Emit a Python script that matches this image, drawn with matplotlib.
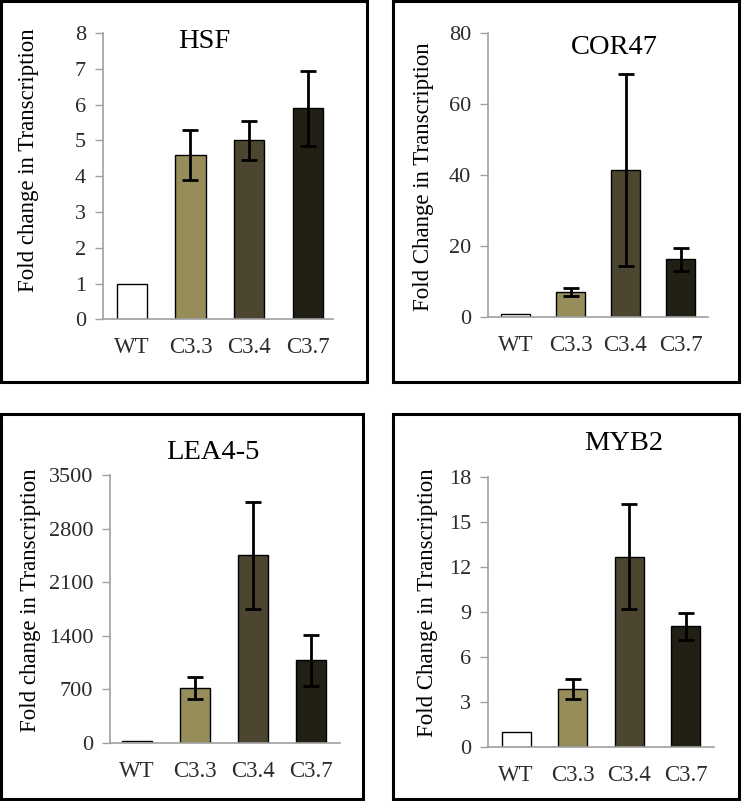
import matplotlib

matplotlib.use("Agg")

import matplotlib.pyplot as plt
from matplotlib.patches import Rectangle

plt.rcParams["font.family"] = ["Liberation Serif", "DejaVu Serif"]

lines = ["WT", "C3.3", "C3.4", "C3.7"]
bar_colors = ["#ffffff", "#978d5b", "#4c4630", "#221f15"]

hsf_mean = [1.0, 4.6, 5.0, 5.9]
hsf_err = [0.0, 0.7, 0.55, 1.05]

cor47_mean = [0.8, 7.1, 41.5, 16.2]
cor47_err = [0.0, 1.2, 27.0, 3.2]

lea45_mean = [20, 720, 2450, 1080]
lea45_err = [0, 140, 700, 330]

myb2_mean = [1.0, 3.85, 12.7, 8.05]
myb2_err = [0.0, 0.68, 3.5, 0.9]

W, H = 742, 801
fig = plt.figure(figsize=(W / 100, H / 100), dpi=100)


def px_box(left, top, right, bottom):
    return [left / W, 1 - bottom / H, (right - left) / W, (bottom - top) / H]


def draw_panel(frame, axbox, means, errs, ymax, ystep, title, title_xy, ylabel, ylabel_xy, xlim):
    # black frame around each panel
    fx0, fy0, fx1, fy1 = frame
    fig.patches.append(
        Rectangle((fx0 / W, 1 - fy1 / H), (fx1 - fx0) / W, (fy1 - fy0) / H,
                  transform=fig.transFigure, fill=False, edgecolor="black", linewidth=2.2)
    )

    ax = fig.add_axes(px_box(*axbox))
    x = range(len(lines))
    ax.bar(x, means, width=0.52, color=bar_colors, edgecolor="black", linewidth=1.0, zorder=2)
    err_x = [i for i in x if errs[i] > 0]
    ax.errorbar(err_x, [means[i] for i in err_x], yerr=[errs[i] for i in err_x],
                fmt="none", ecolor="black", elinewidth=2.0, capsize=6, capthick=2.0, zorder=3)

    ax.set_ylim(0, ymax)
    ax.set_xlim(*xlim)
    ax.set_yticks(range(0, ymax + 1, ystep))
    ax.set_xticks(list(x))
    ax.set_xticklabels(lines, fontsize=16.5, color="#2b2b2b")
    for lbl in ax.get_yticklabels():
        lbl.set_fontsize(16)
        lbl.set_color("#2b2b2b")
    ax.tick_params(axis="y", length=6, width=1, color="#a0a0a0", pad=6)
    ax.tick_params(axis="x", length=0, pad=13)
    for side in ("top", "right"):
        ax.spines[side].set_visible(False)
    for side in ("left", "bottom"):
        ax.spines[side].set_color("#a0a0a0")
        ax.spines[side].set_linewidth(1.2)

    fig.text(title_xy[0] / W, 1 - title_xy[1] / H, title, fontsize=20.5,
             ha="center", va="center", color="black")
    fig.text(ylabel_xy[0] / W, 1 - ylabel_xy[1] / H, ylabel, fontsize=16.5,
             rotation=90, ha="center", va="center", color="black")
    return ax


draw_panel((1, 1, 367, 382), (102.5, 33, 333, 319.3), hsf_mean, hsf_err, 8, 1,
           "HSF", (204, 42), "Fold change in Transcription", (29, 160), (-0.5, 3.43))
draw_panel((393, 1, 739, 382), (488, 33, 708, 317), cor47_mean, cor47_err, 80, 20,
           "COR47", (614, 47), "Fold Change in Transcription", (424, 177), (-0.5, 3.5))
draw_panel((1, 414, 363, 799), (110, 475, 340, 743), lea45_mean, lea45_err, 3500, 700,
           "LEA4-5", (213, 452), "Fold change in Transcription", (31, 600), (-0.47, 3.5))
draw_panel((393, 414, 739, 799), (488, 477, 714, 747), myb2_mean, myb2_err, 18, 3,
           "MYB2", (624, 443), "Fold Change in Transcription", (428, 603), (-0.5, 3.5))

fig.savefig("out.png", dpi=100)
plt.close(fig)
